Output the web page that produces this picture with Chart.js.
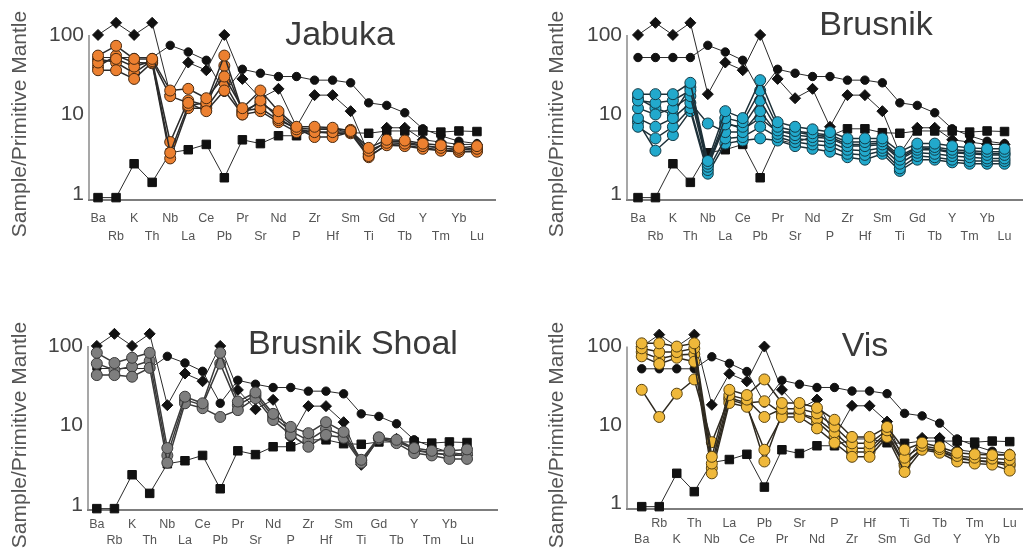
<!DOCTYPE html>
<html>
<head>
<meta charset="utf-8">
<title>Spider diagrams</title>
<script src="https://cdn.jsdelivr.net/npm/chart.js@4.4.0/dist/chart.umd.min.js"></script>
<style>
  body { margin: 0; background: #fff; }
  canvas { position: absolute; }
</style>
</head>
<body>
<canvas id="jabuka" width="514" height="276" style="left:0;top:0"></canvas>
<canvas id="brusnik" width="515" height="276" style="left:514px;top:0"></canvas>
<canvas id="shoal" width="514" height="276" style="left:0;top:276px"></canvas>
<canvas id="vis" width="515" height="276" style="left:514px;top:276px"></canvas>
<script>
// Elements, in plotting order
const elements = ['Ba', 'Rb', 'K', 'Th', 'Nb', 'La', 'Ce', 'Pb', 'Pr', 'Sr', 'Nd', 'P',
                  'Zr', 'Hf', 'Sm', 'Ti', 'Gd', 'Tb', 'Y', 'Tm', 'Yb', 'Lu'];
const yTicks = [1, 10, 100];

// Reference patterns (normalised to primitive mantle)
const refDiamonds = [100, 142, 100, 142, 18, 45, 36, 100, 28, 16, 21, 7, 17.5, 17.5, 11, 3.2, 6.8, 6.8, 4.8, 4.5, 4.2, 4.2];
const refCircles  = [52, 52, 52, 52, 74, 61, 48, 19, 37, 33, 30, 30, 27, 27, 25, 14, 13, 10.5, 6.6, 5.4, 4.6, 4.3];
const refSquares  = [0.9, 0.9, 2.4, 1.4, 3.3, 3.6, 4.2, 1.6, 4.8, 4.3, 5.4, 5.4, 6.6, 6.6, 5.9, 5.8, 6.2, 6.2, 6.2, 6.0, 6.2, 6.1];

// Samples per locality
const jabukaSamples = [
  [55, 73, 50, 50, 20, 21, 16, 30, 12, 20, 11, 7, 7, 6.8, 6.2, 3.8, 4.8, 4.7, 4.3, 4.1, 3.8, 4.0],
  [45, 50, 40, 47, 17, 14, 11, 20, 10, 15, 9, 6.5, 6, 6, 6, 3.5, 4.4, 4.3, 4.0, 3.8, 3.6, 3.7],
  [36, 36, 28, 45, 3.3, 13, 14, 55, 11, 12, 8.5, 6.7, 5.2, 5.2, 6, 3.0, 4.1, 4.0, 3.7, 3.5, 3.4, 3.4],
  [50, 45, 33, 48, 4.5, 15, 13, 41, 11, 14, 10, 6.7, 6.5, 6.5, 6.4, 3.2, 4.6, 4.5, 4.1, 3.8, 3.6, 3.8],
  [40, 55, 45, 44, 2.8, 12, 12, 25, 10, 11, 8, 6, 6, 5.8, 5.8, 2.9, 4.2, 4.1, 3.8, 3.6, 3.4, 3.5]
];
const brusnikSamples = [
  [18, 18, 18, 25, 2.6, 11, 9, 27, 8, 7, 6.5, 6, 5, 5, 5, 3.4, 4.3, 4.3, 4.0, 3.8, 3.7, 3.7],
  [15, 14, 15, 20, 2.4, 9, 8, 20, 7, 6.2, 5.8, 5.5, 4.5, 4.5, 4.6, 3.0, 3.9, 3.9, 3.6, 3.5, 3.4, 3.4],
  [12, 10, 12, 17, 2.2, 7.5, 7, 15, 6.3, 5.5, 5.2, 5, 4, 4, 4.2, 2.7, 3.6, 3.6, 3.3, 3.2, 3.1, 3.1],
  [9, 7, 9, 14, 7.7, 6, 6, 11, 5.7, 5, 4.7, 4.5, 3.6, 3.5, 3.8, 2.4, 3.3, 3.2, 3.0, 2.9, 2.8, 2.8],
  [7, 5, 7, 12, 2.0, 5, 5.2, 7, 5.2, 4.5, 4.2, 4, 3.2, 3.1, 3.5, 2.1, 3.0, 2.9, 2.7, 2.6, 2.6, 2.6],
  [8, 3.5, 5.5, 11, 1.8, 4.3, 4.7, 5, 4.7, 4, 3.7, 3.4, 2.9, 2.7, 3.2, 1.95, 2.7, 2.7, 2.5, 2.4, 2.4, 2.4],
  [16, 12, 10, 22, 2.3, 8, 6.5, 9, 6, 6, 5.5, 5.2, 4.2, 4.2, 4.4, 2.8, 3.8, 3.7, 3.4, 3.3, 3.2, 3.2]
];
const shoalSamples = [
  [82, 61, 71, 82, 5.2, 23, 19, 82, 20, 26, 14, 9.6, 8, 11, 8.3, 3.7, 7.1, 6.6, 5.2, 4.8, 4.8, 5.0],
  [43, 43, 41, 53, 3.4, 19, 16.5, 12.8, 15.6, 22, 11.7, 7.6, 5.4, 7.6, 7, 3.4, 6.8, 6.0, 4.5, 4.2, 3.8, 3.8],
  [60, 50, 55, 65, 4.2, 21, 18, 60, 18, 24, 13, 8.5, 6.5, 9, 7.5, 3.6, 7.0, 6.3, 5.0, 4.5, 4.3, 4.4]
];
const visSamples = [
  [110, 110, 100, 110, 3.9, 28, 24, 38, 19, 19, 16.5, 11.6, 7, 7, 9.4, 4.8, 5.9, 5.2, 4.4, 4.2, 4.1, 4.1],
  [95, 85, 85, 95, 3.2, 24, 21, 12.6, 16, 16, 14, 9.5, 5.8, 5.8, 8.5, 3.8, 5.4, 4.9, 4.0, 3.8, 3.7, 3.6],
  [75, 60, 72, 64, 2.4, 19, 17, 4.8, 12.6, 12.6, 9, 5.9, 3.9, 3.9, 7, 2.5, 4.8, 4.4, 3.4, 3.2, 3.1, 2.6],
  [28, 12.6, 25, 38, 6, 22, 19, 20, 14, 14, 12, 8, 5, 5, 8, 3.2, 5.0, 4.7, 3.8, 3.5, 3.4, 3.2],
  [85, 70, 78, 80, 2.8, 21, 18, 3.4, 14, 14, 11, 7, 4.5, 4.5, 7.5, 3.0, 5.0, 4.6, 3.7, 3.5, 3.3, 3.0]
];

const FONT = '"Liberation Sans", Arial, Helvetica, sans-serif';

// panel name, y-axis caption and the y-axis line (1..100 only), drawn under the data
const panelText = {
  id: 'panelText',
  beforeDatasetsDraw(chart, args, opts) {
    const ctx = chart.ctx;
    const y = chart.scales.y;
    const area = chart.chartArea;
    ctx.save();
    ctx.strokeStyle = '#8a8a8a';
    ctx.lineWidth = 1.5;
    ctx.beginPath();
    ctx.moveTo(area.left, y.getPixelForValue(100));
    ctx.lineTo(area.left, area.bottom);
    ctx.stroke();

    ctx.textAlign = 'center';
    ctx.textBaseline = 'middle';
    ctx.fillStyle = '#3a3a3a';
    ctx.font = '34px ' + FONT;
    ctx.fillText(opts.name, opts.nameX, opts.nameY);
    ctx.translate(opts.captionX, opts.captionY);
    ctx.rotate(-Math.PI / 2);
    ctx.fillStyle = '#555';
    ctx.font = '21px ' + FONT;
    ctx.fillText('Sample/Primitive Mantle', 0, 0);
    ctx.restore();
  }
};

function toPoints(values) {
  return values.map((v, i) => ({ x: i, y: v }));
}

function refDataset(values, style, radius) {
  return {
    data: toPoints(values),
    borderColor: '#2a2a2a',
    borderWidth: 1,
    pointStyle: style,
    pointRadius: radius,
    pointBackgroundColor: '#111',
    pointBorderColor: '#111',
    pointBorderWidth: 1,
    clip: false,
    order: 1
  };
}

function sampleDataset(values, p) {
  return {
    data: toPoints(values),
    borderColor: p.line,
    borderWidth: 1.5,
    pointStyle: 'circle',
    pointRadius: 5.5,
    pointBackgroundColor: p.fill,
    pointBorderColor: p.edge,
    pointBorderWidth: 1,
    clip: false,
    order: 0
  };
}

// keep tick labels from pushing the plot area around
function noLabelPadding(s) {
  s.paddingTop = 0;
  s.paddingBottom = 0;
  s.paddingLeft = 0;
  s.paddingRight = 0;
}

function buildPanel(p) {
  const canvas = document.getElementById(p.id);
  const W = canvas.width, H = canvas.height;
  const datasets = [
    refDataset(refSquares, 'rect', 6),
    refDataset(refCircles, 'circle', 4.2),
    refDataset(refDiamonds, 'rectRot', 5.5)
  ].concat(p.samples.map(s => sampleDataset(s, p)));

  // staggered element labels
  const labels = elements.map((el, i) => {
    const top = (i % 2 === 0) !== p.swapRows;
    return top ? [el, ''] : ['', el];
  });

  return new Chart(canvas, {
    type: 'line',
    data: { datasets },
    plugins: [panelText],
    options: {
      responsive: false,
      animation: false,
      events: [],
      layout: { padding: { left: 0, top: p.area.top, right: W - p.area.right, bottom: 0 } },
      plugins: {
        legend: { display: false },
        tooltip: { enabled: false },
        panelText: {
          name: p.name, nameX: p.nameX, nameY: p.nameY,
          captionX: p.captionX, captionY: p.captionY
        }
      },
      scales: {
        x: {
          type: 'linear',
          min: p.xMin,
          max: p.xMax,
          grid: { display: false, drawTicks: false },
          border: { display: true, color: '#7d7d7d', width: 2 },
          afterBuildTicks: s => { s.ticks = elements.map((_, i) => ({ value: i })); },
          afterFit: s => { s.height = H - p.area.bottom; noLabelPadding(s); },
          ticks: {
            autoSkip: false,
            maxRotation: 0,
            padding: p.labelPad,
            color: '#555',
            font: { family: FONT, size: 12.5, lineHeight: p.labelLine },
            callback: (v, i) => labels[i]
          }
        },
        y: {
          type: 'logarithmic',
          min: p.yMin,
          max: 200,
          grid: { display: false, drawTicks: false },
          border: { display: false },
          afterBuildTicks: s => { s.ticks = yTicks.map(v => ({ value: v })); },
          afterFit: s => { s.width = p.area.left; noLabelPadding(s); },
          ticks: {
            padding: 5,
            color: '#444',
            font: { family: FONT, size: 21 },
            callback: v => String(v)
          }
        }
      }
    }
  });
}

// area.top is where 200 falls, so that 100 lands at the top of the drawn axis
const panels = [
  { id: 'jabuka', name: 'Jabuka', samples: jabukaSamples,
    fill: '#ec8030', edge: '#4a2a10', line: '#2a2a2a',
    area: { left: 89, top: 11, right: 495, bottom: 200 }, xMin: -0.5, xMax: 22.0, yMin: 0.84,
    nameX: 340, nameY: 36, captionX: 20, captionY: 124, labelPad: 10, labelLine: 18 / 12.5, swapRows: false },
  { id: 'brusnik', name: 'Brusnik', samples: brusnikSamples,
    fill: '#22a9cc', edge: '#123c48', line: '#1d3038',
    area: { left: 113, top: 11, right: 511, bottom: 200 }, xMin: -0.63, xMax: 22.0, yMin: 0.84,
    nameX: 362, nameY: 26, captionX: 43, captionY: 124, labelPad: 10, labelLine: 18 / 12.5, swapRows: false },
  { id: 'shoal', name: 'Brusnik Shoal', samples: shoalSamples,
    fill: '#7e7e7e', edge: '#3a3a3a', line: '#3a3a3a',
    area: { left: 88, top: 46, right: 497, bottom: 234 }, xMin: -0.5, xMax: 22.7, yMin: 0.865,
    nameX: 353, nameY: 69, captionX: 20, captionY: 159, labelPad: 7, labelLine: 16 / 12.5, swapRows: false },
  { id: 'vis', name: 'Vis', samples: visSamples,
    fill: '#efb83a', edge: '#5a4410', line: '#2f2a20',
    area: { left: 113, top: 47, right: 514, bottom: 233 }, xMin: -0.84, xMax: 21.7, yMin: 0.84,
    nameX: 351, nameY: 71, captionX: 43, captionY: 159, labelPad: 7, labelLine: 16 / 12.5, swapRows: true }
];

panels.forEach(buildPanel);
</script>
</body>
</html>
